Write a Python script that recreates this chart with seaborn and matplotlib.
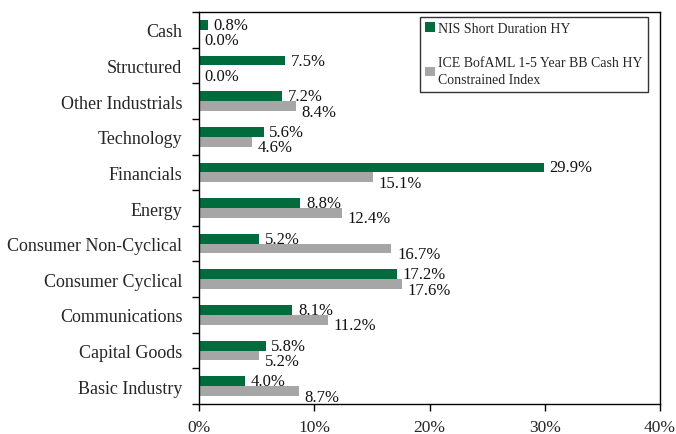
import matplotlib
matplotlib.use("Agg")
import matplotlib.pyplot as plt
import numpy as np
import pandas as pd
import seaborn as sns
from matplotlib.ticker import FuncFormatter, FixedLocator

sectors = [
    "Cash", "Structured", "Other Industrials", "Technology", "Financials",
    "Energy", "Consumer Non-Cyclical", "Consumer Cyclical", "Communications",
    "Capital Goods", "Basic Industry",
]
nis_values = [0.8, 7.5, 7.2, 5.6, 29.9, 8.8, 5.2, 17.2, 8.1, 5.8, 4.0]
ice_values = [0.0, 0.0, 8.4, 4.6, 15.1, 12.4, 16.7, 17.6, 11.2, 5.2, 8.7]
series_names = [
    "NIS Short Duration HY",
    "ICE BofAML 1-5 Year BB Cash HY\nConstrained Index",
]
colors = ["#006B3C", "#A6A6A6"]


def build_frame():
    rows = []
    for name, vals in zip(series_names, [nis_values, ice_values]):
        for sec, v in zip(sectors, vals):
            rows.append({"sector": sec, "series": name, "value": v / 100})
    return pd.DataFrame(rows)


def plot_chart(df):
    sns.set_theme(style="white")
    plt.rcParams["font.family"] = ["Liberation Serif", "DejaVu Serif"]

    fig = plt.figure(figsize=(6.76, 4.35), dpi=100)
    ax = fig.add_axes([0.2944, 0.069, 0.682, 0.901])

    sns.barplot(
        data=df, y="sector", x="value", hue="series", order=sectors,
        hue_order=series_names, palette=colors, orient="h", width=0.55,
        ax=ax, saturation=1, linewidth=0, legend=True,
    )

    # value labels, index series nudged a bit lower like the original
    for container, dy in zip(ax.containers, [0, -4]):
        for patch in container:
            w = patch.get_width()
            y = patch.get_y() + patch.get_height() / 2
            ax.annotate(f"{w * 100:.1f}%", xy=(w, y), xytext=(4, dy),
                        textcoords="offset points", va="center", ha="left",
                        fontsize=12, color="#111111")

    ax.set_xlim(0, 0.40)
    ax.set_ylim(len(sectors) - 0.5, -0.5)
    ax.set_xticks(np.arange(0, 0.41, 0.1))
    ax.xaxis.set_major_formatter(FuncFormatter(lambda v, p: f"{v * 100:.0f}%"))
    ax.set_xlabel("")
    ax.set_ylabel("")

    ax.yaxis.set_minor_locator(FixedLocator(np.arange(-0.5, len(sectors), 1)))
    ax.tick_params(axis="y", which="major", length=0, labelsize=13, pad=12)
    ax.tick_params(axis="y", which="minor", length=5, width=1, direction="out",
                   left=True, color="black")
    ax.tick_params(axis="x", which="major", length=5, width=1, direction="out",
                   bottom=True, color="black", labelsize=12.5, pad=6)

    for s in ax.spines.values():
        s.set_visible(True)
        s.set_color("black")
        s.set_linewidth(1)

    leg = ax.legend(
        loc="upper right", bbox_to_anchor=(0.983, 0.999), frameon=True,
        fancybox=False, edgecolor="black", fontsize=10, handlelength=0.7,
        handleheight=0.7, handletextpad=0.2, labelspacing=1.5,
        borderpad=0.4, borderaxespad=0.3, title=None,
    )
    leg.get_frame().set_linewidth(1)
    for t in leg.get_texts():
        t.set_linespacing(1.45)

    fig.savefig("out.png", dpi=100)
    plt.close(fig)


if __name__ == "__main__":
    plot_chart(build_frame())
